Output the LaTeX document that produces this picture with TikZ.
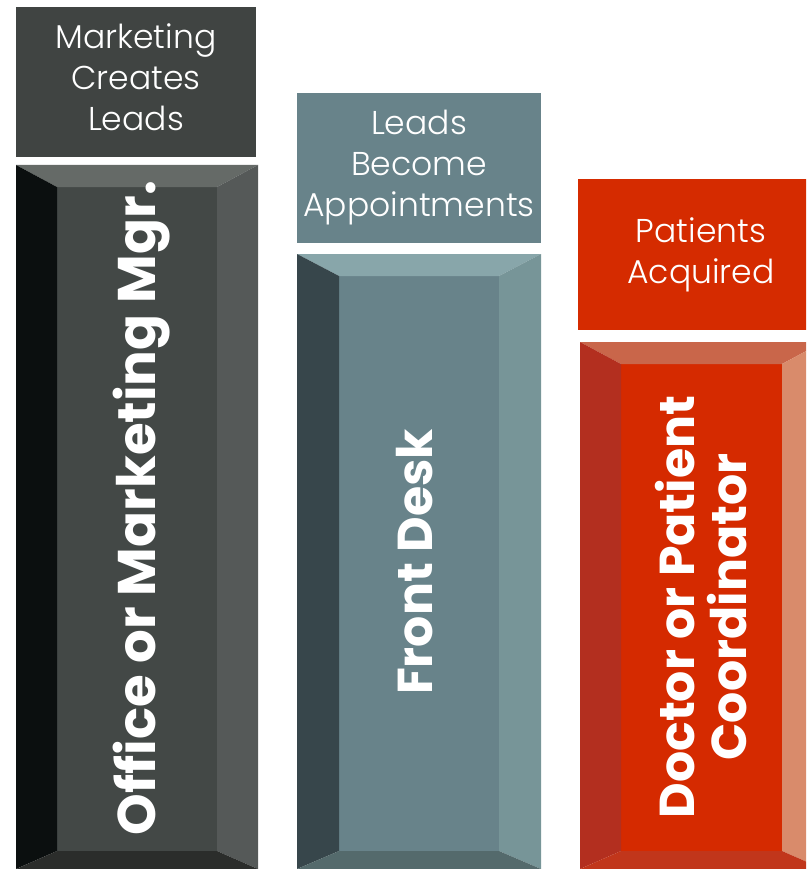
\documentclass[tikz,border=0pt]{standalone}
\usepackage{fontspec}
\setmainfont{Poppins}
\newfontfamily\thinfont{Poppins Light}

\definecolor{graylbl}{HTML}{404442}
\definecolor{grayface}{HTML}{434846}
\definecolor{graytop}{HTML}{656A67}
\definecolor{grayleft}{HTML}{0B0F0F}
\definecolor{grayright}{HTML}{555958}
\definecolor{graybot}{HTML}{2B2D2B}
\definecolor{teallbl}{HTML}{68838A}
\definecolor{tealface}{HTML}{68838A}
\definecolor{tealtop}{HTML}{88A6AA}
\definecolor{tealleft}{HTML}{37464B}
\definecolor{tealright}{HTML}{779598}
\definecolor{tealbot}{HTML}{546A6C}
\definecolor{redlbl}{HTML}{D52B00}
\definecolor{redface}{HTML}{D52A00}
\definecolor{redtop}{HTML}{C9664A}
\definecolor{redleft}{HTML}{B32F1F}
\definecolor{redright}{HTML}{D98B6B}
\definecolor{redbot}{HTML}{C1361B}

\tikzset{
  tag/.style={rectangle, inner sep=0pt, outer sep=0pt, text=white, align=center,
    font=\thinfont\fontsize{33}{41}\selectfont},
  slab/.style={rectangle, inner sep=0pt, outer sep=0pt},
  upright/.style={rotate=90, text=white, align=center,
    font=\bfseries\fontsize{#1}{52}\selectfont},
  upright/.default=49
}

\begin{document}
\begin{tikzpicture}[x=1pt, y=-1pt]
\useasboundingbox (0,0) rectangle (806,869);
\clip (0,0) rectangle (806,869);

% headings
\node[tag, fill=graylbl, minimum width=240, minimum height=150, text depth=10pt] (markTag) at (136, 82) {Marketing\\Creates\\Leads};
\node[tag, fill=teallbl, minimum width=244, minimum height=150] (leadTag) at (419, 168) {Leads\\Become\\Appointments};
\node[tag, fill=redlbl, minimum width=246, minimum height=151] (patTag) at (701, 254.5) {Patients\\Acquired};

% office column
\node[slab, minimum width=242, minimum height=704] (officeBox) at (137, 517) {};
\node[slab, fill=grayface, minimum width=160, minimum height=664] (officeFace) at (137, 519) {};
\fill[graytop] (officeBox.north west) -- (officeBox.north east) -- (officeFace.north east) -- (officeFace.north west) -- cycle;
\fill[grayleft] (officeBox.north west) -- (officeFace.north west) -- (officeFace.south west) -- (officeBox.south west) -- cycle;
\fill[grayright] (officeBox.north east) -- (officeBox.south east) -- (officeFace.south east) -- (officeFace.north east) -- cycle;
\fill[graybot] (officeBox.south west) -- (officeBox.south east) -- (officeFace.south east) -- (officeFace.south west) -- cycle;
\node[upright=53, anchor=base] (officeText) at (155, 508) {Office or Marketing Mgr.};

% front desk column
\node[slab, minimum width=244, minimum height=615] (deskBox) at (419, 561.5) {};
\node[slab, fill=tealface, minimum width=160, minimum height=575] (deskFace) at (419, 563.5) {};
\fill[tealtop] (deskBox.north west) -- (deskBox.north east) -- (deskFace.north east) -- (deskFace.north west) -- cycle;
\fill[tealleft] (deskBox.north west) -- (deskFace.north west) -- (deskFace.south west) -- (deskBox.south west) -- cycle;
\fill[tealright] (deskBox.north east) -- (deskBox.south east) -- (deskFace.south east) -- (deskFace.north east) -- cycle;
\fill[tealbot] (deskBox.south west) -- (deskBox.south east) -- (deskFace.south east) -- (deskFace.south west) -- cycle;
\node[upright, anchor=base] (deskText) at (432, 562) {Front Desk};

% doctor column
\node[slab, minimum width=243, minimum height=527] (docBox) at (701.5, 605.5) {};
\node[slab, fill=redface, minimum width=161, minimum height=487] (docFace) at (701.5, 607.5) {};
\fill[redtop] (docBox.north west) -- (docBox.north east) -- (docFace.north east) -- (docFace.north west) -- cycle;
\fill[redleft] (docBox.north west) -- (docFace.north west) -- (docFace.south west) -- (docBox.south west) -- cycle;
\fill[redright] (docBox.north east) -- (docBox.south east) -- (docFace.south east) -- (docFace.north east) -- cycle;
\fill[redbot] (docBox.south west) -- (docBox.south east) -- (docFace.south east) -- (docFace.south west) -- cycle;
\node[upright] (docText) at (701, 607) {Doctor or Patient\\Coordinator};
\end{tikzpicture}
\end{document}
